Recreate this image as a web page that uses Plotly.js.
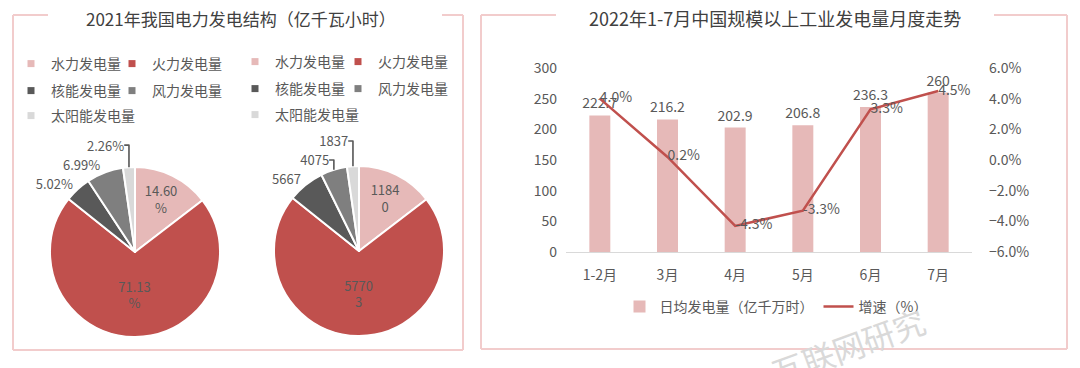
<!DOCTYPE html>
<html><head><meta charset="utf-8">
<script src="https://cdn.plot.ly/plotly-3.0.1.min.js"></script>
<style>html,body{margin:0;padding:0;background:#fff}</style>
</head><body><div id="chart" style="width:1080px;height:368px"></div>
<script>
// ---- data ----
const energyTypes = ['水力发电量','火力发电量','核能发电量','风力发电量','太阳能发电量'];
const energyShares = [14.60, 71.13, 5.02, 6.99, 2.26];
const energyAmounts = [11840, 57703, 5667, 4075, 1837];
const months = ['1-2月','3月','4月','5月','6月','7月'];
const dailyOutput = [222.7, 216.2, 202.9, 206.8, 236.3, 260];
const growthRate = [4.0, 0.2, -4.3, -3.3, 3.3, 4.5];
const leftTitle = '2021年我国电力发电结构（亿千瓦小时）';
const rightTitle = '2022年1-7月中国规模以上工业发电量月度走势';
const barName = '日均发电量（亿千万时）';
const lineName = '增速（%）';
const watermark = '互联网研究';

// ---- styling ----
const W = 1080, H = 368;
const px = x => x / W, py = y => 1 - y / H;
const pieColors = ['#e6b9b8','#c0504d','#595959','#7f7f7f','#d9d9d9'];
const txt = '#595959';
const font = '"Noto Sans CJK SC", "Noto Sans", sans-serif';
const textPos = ['inside','inside','outside','outside','outside'];
const wrap = (s, n, i) => (textPos[i] === 'inside' && s.length > n) ? s.slice(0, n) + '<br>' + s.slice(n) : s;

function pieTrace(values, labels, cx, cy, r) {
  return {
    type: 'pie', values: values, labels: energyTypes, sort: false,
    direction: 'clockwise', rotation: 0, showlegend: false,
    text: labels, textinfo: 'text', textposition: textPos,
    insidetextorientation: 'horizontal',
    textfont: {size: 13, color: txt, family: font},
    marker: {colors: pieColors, line: {color: '#ffffff', width: 2}},
    domain: {x: [px(cx - r), px(cx + r)], y: [py(cy + r), py(cy - r)]},
    hoverinfo: 'skip'
  };
}

const pie1Text = energyShares.map((v, i) => wrap(v.toFixed(2) + '%', 5, i));
const pie2Text = energyAmounts.map((v, i) => wrap(String(v), 4, i));

const traces = [
  pieTrace(energyShares, pie1Text, 135, 252, 85),
  pieTrace(energyAmounts, pie2Text, 359, 251, 85),
  {
    type: 'bar', x: months, y: dailyOutput, name: barName,
    marker: {color: '#e6b9b8'},
    text: dailyOutput.map(String), textposition: 'outside', constraintext: 'none',
    textfont: {size: 14, color: txt, family: font}, cliponaxis: false,
    legend: 'legend', hoverinfo: 'skip'
  },
  {
    type: 'scatter', x: months, y: growthRate, yaxis: 'y2', name: lineName,
    mode: 'lines+text', line: {color: '#c0504d', width: 2.5},
    text: growthRate.map(v => v.toFixed(1) + '%'), textposition: 'middle right',
    textfont: {size: 14, color: txt, family: font}, cliponaxis: false,
    legend: 'legend', hoverinfo: 'skip'
  }
];

// legend entries for pies: each entry in its own legend, laid out in 2 columns x 3 rows
const legends = {};
const pieLegendRows = [[64, 91, 116], [62, 89, 115]];
const pieLegendCols = [[51, 152], [275, 378]];
let li = 2;
for (let p = 0; p < 2; p++) {
  energyTypes.forEach((t, i) => {
    const name = 'legend' + li++;
    legends[name] = {
      orientation: 'h', x: px(pieLegendCols[p][i % 2] - 40), xanchor: 'left',
      y: py(pieLegendRows[p][Math.floor(i / 2)]), yanchor: 'middle',
      font: {size: 14, color: txt, family: font}, bgcolor: 'rgba(0,0,0,0)'
    };
    traces.push({
      type: 'scatter', x: [null], y: [null], mode: 'markers', name: t,
      marker: {symbol: 'square', size: 7, color: pieColors[i]},
      legend: name, showlegend: true, hoverinfo: 'skip'
    });
  });
}

const border = '#f2cccc';
function seg(x0, y0, x1, y1) {
  return {type: 'line', xref: 'paper', yref: 'paper', x0: px(x0), y0: py(y0), x1: px(x1), y1: py(y1),
          line: {color: border, width: 2}, layer: 'below'};
}
const shapes = [
  seg(13, 15, 48, 15), seg(442, 15, 463, 15), seg(13, 15, 13, 350), seg(463, 15, 463, 350), seg(13, 350, 463, 350),
  seg(481, 15, 556, 15), seg(994, 15, 1067, 15), seg(481, 15, 481, 349), seg(1067, 15, 1067, 349), seg(481, 349, 1067, 349)
];

const layout = Object.assign({
  width: W, height: H, margin: {l: 0, r: 0, t: 0, b: 0},
  paper_bgcolor: '#ffffff', plot_bgcolor: 'rgba(0,0,0,0)',
  font: {family: font, color: txt, size: 14},
  showlegend: true, bargap: 0.69,
  xaxis: {domain: [px(566), px(972)], type: 'category', showline: true, linecolor: '#d9d9d9', linewidth: 1,
          ticks: '', showgrid: false, zeroline: false, tickfont: {size: 14, color: txt}, ticklabelstandoff: 10},
  yaxis: {domain: [py(252), py(68)], range: [0, 300], dtick: 50, showgrid: false, zeroline: false, showline: false,
          ticks: '', tickfont: {size: 14, color: txt}, ticklabelstandoff: 8},
  yaxis2: {overlaying: 'y', side: 'right', anchor: 'x', range: [-6, 6], dtick: 2, tickformat: '.1f', ticksuffix: '%',
           showgrid: false, zeroline: false, showline: false, ticks: '', tickfont: {size: 14, color: txt}, ticklabelstandoff: 16},
  legend: {orientation: 'h', x: px(776), xanchor: 'center', y: py(307), yanchor: 'middle',
           font: {size: 14, color: txt, family: font}, bgcolor: 'rgba(0,0,0,0)'},
  shapes: shapes,
  annotations: [
    {text: leftTitle, xref: 'paper', yref: 'paper', x: px(241), y: py(18), xanchor: 'center', yanchor: 'middle',
     showarrow: false, font: {size: 17, color: '#404040', family: font}},
    {text: rightTitle, xref: 'paper', yref: 'paper', x: px(775), y: py(18), xanchor: 'center', yanchor: 'middle',
     showarrow: false, font: {size: 18, color: '#404040', family: font}},
    {text: watermark, xref: 'paper', yref: 'paper', x: px(848), y: py(346), xanchor: 'center', yanchor: 'middle',
     showarrow: false, textangle: -20, font: {size: 32, color: '#d9d9d9', family: font}}
  ]
}, legends);

Plotly.newPlot('chart', traces, layout, {staticPlot: true, displayModeBar: false});
</script></body></html>
